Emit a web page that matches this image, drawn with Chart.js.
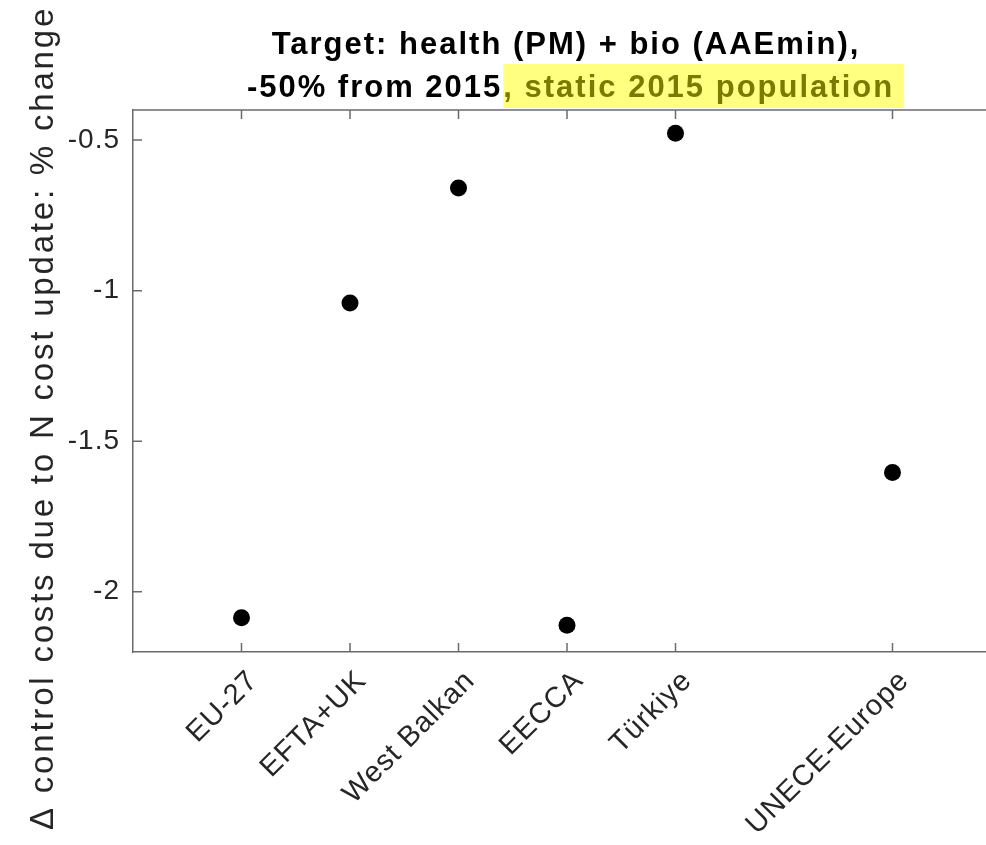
<!DOCTYPE html>
<html><head><meta charset="utf-8">
<script src="https://cdn.jsdelivr.net/npm/chart.js@4.4.1/dist/chart.umd.min.js"></script>
<style>html,body{margin:0;padding:0;overflow:hidden;background:#fff}#wrap{width:1020px;height:845px}</style>
</head><body><div id="wrap"><canvas id="c" width="1020" height="845"></canvas></div>
<script>
// ---- data ----
const categories = ['EU-27', 'EFTA+UK', 'West Balkan', 'EECCA', 'Türkiye', 'UNECE-Europe'];
const xPositions = [1, 2, 3, 4, 5, 7];
const changePct = [-2.086, -1.041, -0.659, -2.111, -0.477, -1.604];
const yTicks = [-2, -1.5, -1, -0.5];
const titleLine1 = 'Target: health (PM) + bio (AAEmin),';
const titleLine2a = '-50% from 2015';
const titleLine2b = ', static 2015 population';
const yLabel = 'Δ control costs due to N cost update: % change';

// ---- styles ----
const FONT = '"Liberation Sans", Arial, Helvetica, sans-serif';
const AXIS_COLOR = '#6b6b6b';
const TEXT_COLOR = '#262626';
const TICK_LS = '1px';

const decor = {
  id: 'decor',
  beforeLayout(chart) { chart.ctx.letterSpacing = TICK_LS; },
  beforeDraw(chart) {
    const ctx = chart.ctx;
    ctx.save();
    ctx.fillStyle = '#fff';
    ctx.fillRect(0, 0, chart.width, chart.height);
    ctx.restore();
    ctx.letterSpacing = TICK_LS;
  },
  afterDraw(chart) {
    const ctx = chart.ctx;
    const a = chart.chartArea;
    const xs = chart.scales.x, ys = chart.scales.y;
    ctx.save();
    ctx.letterSpacing = '0px';
    ctx.strokeStyle = AXIS_COLOR;
    ctx.lineWidth = 1.5;
    ctx.beginPath();
    ctx.moveTo(a.left, a.top); ctx.lineTo(a.right, a.top);
    const TL = 9;
    xs.ticks.forEach(t => {
      const px = xs.getPixelForValue(t.value);
      ctx.moveTo(px, a.bottom); ctx.lineTo(px, a.bottom - TL);
      ctx.moveTo(px, a.top); ctx.lineTo(px, a.top + TL);
    });
    ys.ticks.forEach(t => {
      const py = ys.getPixelForValue(t.value);
      ctx.moveTo(a.left, py); ctx.lineTo(a.left + TL, py);
      ctx.moveTo(a.right, py); ctx.lineTo(a.right - TL, py);
    });
    ctx.stroke();

    // title
    const cx = (a.left + a.right) / 2;
    ctx.font = 'bold 31px ' + FONT;
    ctx.letterSpacing = '2px';
    ctx.textAlign = 'left';
    ctx.textBaseline = 'alphabetic';
    ctx.fillStyle = '#000';
    const w1 = ctx.measureText(titleLine1).width;
    ctx.fillText(titleLine1, cx - 1 - w1 / 2, 54);
    const wa = ctx.measureText(titleLine2a).width;
    const wb = ctx.measureText(titleLine2b).width;
    const x0 = cx + 3 - (wa + wb) / 2;
    ctx.fillText(titleLine2a, x0, 97);
    ctx.fillStyle = '#ffff80';
    ctx.fillRect(x0 + wa + 1, 64, wb + 10, 44);
    ctx.fillStyle = '#7a7a00';
    ctx.fillText(titleLine2b, x0 + wa + 1, 97);

    // y label
    ctx.translate(44, 418);
    ctx.rotate(-Math.PI / 2);
    ctx.font = '33px ' + FONT;
    ctx.letterSpacing = '2.8px';
    ctx.textAlign = 'center';
    ctx.textBaseline = 'middle';
    ctx.fillStyle = TEXT_COLOR;
    ctx.fillText(yLabel, 0, 0);
    ctx.restore();
  }
};

new Chart(document.getElementById('c'), {
  type: 'scatter',
  data: {
    datasets: [{
      data: xPositions.map((x, i) => ({ x: x, y: changePct[i] })),
      backgroundColor: '#000',
      borderWidth: 0,
      pointRadius: 8.5,
      pointHoverRadius: 8.5
    }]
  },
  options: {
    responsive: false,
    animation: false,
    events: [],
    layout: { padding: { top: 110, right: 19, left: 0, bottom: 0 } },
    plugins: { legend: { display: false }, tooltip: { enabled: false }, title: { display: false } },
    scales: {
      x: {
        type: 'linear', min: 0, max: 8, position: 'bottom',
        afterBuildTicks: s => { s.ticks = xPositions.map(v => ({ value: v })); },
        afterFit: s => { s.height = 193; },
        grid: { display: false, drawTicks: false },
        border: { display: true, color: AXIS_COLOR, width: 1.5 },
        ticks: {
          autoSkip: false, minRotation: 45, maxRotation: 45, padding: 12, labelOffset: 12,
          color: TEXT_COLOR, font: { family: FONT, size: 29 },
          callback: v => categories[xPositions.indexOf(v)]
        }
      },
      y: {
        type: 'linear', min: -2.2, max: -0.4,
        afterBuildTicks: s => { s.ticks = yTicks.map(v => ({ value: v })); },
        afterFit: s => { s.width = 133; },
        grid: { display: false, drawTicks: false },
        border: { display: true, color: AXIS_COLOR, width: 1.5 },
        ticks: {
          padding: 13, color: TEXT_COLOR, font: { family: FONT, size: 28 },
          callback: v => String(v)
        }
      }
    }
  },
  plugins: [decor]
});
</script>
</body></html>
